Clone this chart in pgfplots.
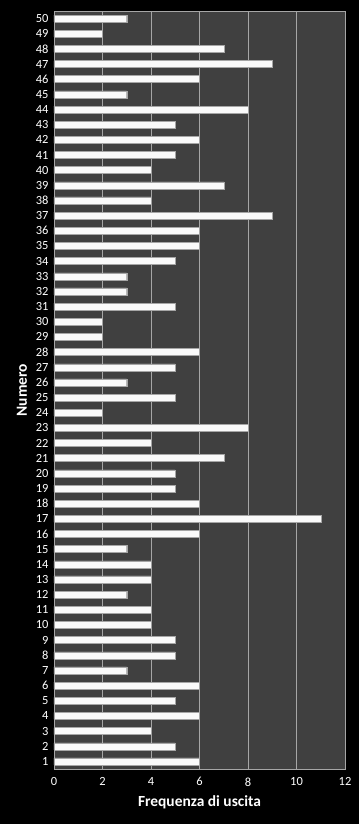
\documentclass[border=0pt]{standalone}
\usepackage{fontspec}
\setmainfont{Carlito}
\usepackage{pgfplots}
\pgfplotsset{compat=1.18}
\definecolor{plotbg}{HTML}{404040}
\definecolor{gridc}{HTML}{A6A6A6}
\begin{document}
\begin{tikzpicture}[x=1bp,y=1bp]
\fill[black] (-54bp,-55bp) rectangle (305bp,769bp);
\begin{axis}[
  at={(0,0)}, anchor=south west,
  scale only axis, width=291bp, height=758bp,
  xbar, bar width=7bp,
  xmin=0, xmax=12, xtick={0,2,...,12},
  ymin=0.5, ymax=50.5, ytick={1,...,50},
  axis background/.style={fill=plotbg},
  axis line style={draw=gridc},
  xmajorgrids, grid style={gridc, line width=0.6pt},
  major tick length=0pt,
  ticklabel style={text=white, font=\fontsize{12.5}{14}\selectfont},
  /pgf/number format/assume math mode=true,
  xticklabel style={yshift=-5bp},
  yticklabel style={xshift=-2bp},
  xlabel={\textbf{Frequenza di uscita}},
  ylabel={\textbf{Numero}},
  label style={text=white, font=\fontsize{15.5}{18}\selectfont},
  xlabel style={yshift=-3bp},
  ylabel style={yshift=2bp},
]
\addplot[fill=white!96!gray, draw=gray!70, line width=0.5pt] coordinates {
(6,1) (5,2) (4,3) (6,4) (5,5) (6,6) (3,7) (5,8) (5,9) (4,10)
(4,11) (3,12) (4,13) (4,14) (3,15) (6,16) (11,17) (6,18) (5,19) (5,20)
(7,21) (4,22) (8,23) (2,24) (5,25) (3,26) (5,27) (6,28) (2,29) (2,30)
(5,31) (3,32) (3,33) (5,34) (6,35) (6,36) (9,37) (4,38) (7,39) (4,40)
(5,41) (6,42) (5,43) (8,44) (3,45) (6,46) (9,47) (7,48) (2,49) (3,50)
};
\end{axis}
\end{tikzpicture}
\end{document}
